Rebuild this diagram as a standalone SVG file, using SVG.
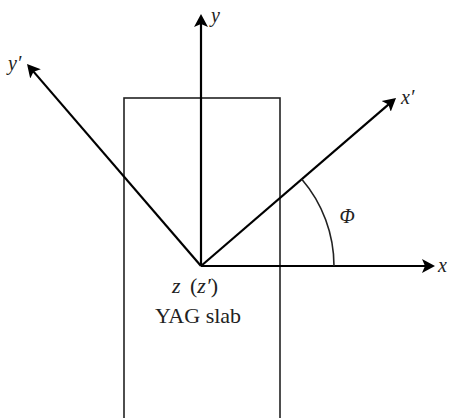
<svg xmlns="http://www.w3.org/2000/svg" width="449" height="418" viewBox="0 0 449 418">
<style>
.ax{stroke:#000;stroke-width:2.2;fill:none;marker-end:url(#arr)}
.thin{stroke:#222;stroke-width:1.6;fill:none}
.lbl{font-family:"Liberation Serif","Times New Roman",serif;font-style:italic;font-size:20px;fill:#222}
.txt{font-family:"Liberation Serif","Times New Roman",serif;font-size:22px;fill:#222}
</style>
<defs>
<marker id="arr" markerUnits="userSpaceOnUse" markerWidth="18" markerHeight="18" viewBox="0 -9 18 18" refX="4" refY="0" orient="auto">
<path d="M0,-7 L13,0 L0,7 L3,0 z" fill="#000"/>
</marker>
</defs>
<rect fill="#fff" width="449" height="418"/>
<g id="slab">
<rect class="thin" x="124" y="98" width="156" height="340"/>
<text class="txt" x="198" y="323" text-anchor="middle">YAG slab</text>
<text class="txt" y="293"><tspan x="172" font-style="italic">z</tspan><tspan x="190">(</tspan><tspan font-style="italic">z′</tspan><tspan>)</tspan></text>
</g>
<g id="connectors">
<line class="ax" x1="201" y1="266" x2="201" y2="23"/>
<line class="ax" x1="201" y1="266" x2="426" y2="266"/>
<line class="ax" x1="201" y1="266" x2="389.2" y2="103.8"/>
<line class="ax" x1="201" y1="266" x2="32.9" y2="70.9"/>
<path class="thin" d="M301.8,179.3 A133,133 0 0 1 334,266"/>
</g>
<g id="labels">
<text class="lbl" x="211" y="22">y</text>
<text class="lbl" x="438" y="272">x</text>
<text class="lbl" x="401" y="104">x′</text>
<text class="lbl" x="8" y="70">y′</text>
<text class="lbl" x="347" y="223" text-anchor="middle" font-size="21">Φ</text>
</g>
</svg>
